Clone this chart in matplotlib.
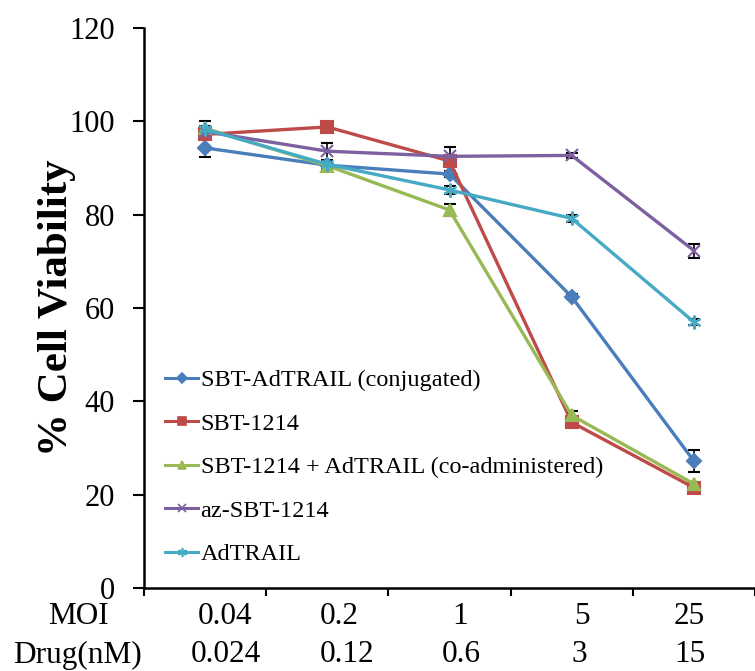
import numpy as np
import matplotlib
matplotlib.use("Agg")
import matplotlib.pyplot as plt
from matplotlib.lines import Line2D

plt.rcParams['font.family'] = ['Liberation Serif', 'DejaVu Serif']

# data
moi = ["0.04", "0.2", "1", "5", "25"]
drug = ["0.024", "0.12", "0.6", "3", "15"]
names = ["SBT-AdTRAIL (conjugated)", "SBT-1214",
         "SBT-1214 + AdTRAIL (co-administered)", "az-SBT-1214", "AdTRAIL"]
conj = [94.3, 90.6, 88.7, 62.4, 27.2]
conj_err = [1.9, 0.6, 0.6, 0.5, 2.3]
sbt = [97.2, 98.8, 91.5, 35.5, 21.5]
sbt_err = [0.8, 0.5, 0.6, 0.6, 0.5]
coadm = [98.5, 90.5, 81.0, 37.0, 22.3]
coadm_err = [1.5, 0.8, 1.2, 1.0, 0.5]
az = [97.8, 93.6, 92.5, 92.7, 72.3]
az_err = [1.0, 1.8, 2.0, 0.5, 1.5]
adtrail = [98.3, 90.8, 85.3, 79.2, 57.0]
adtrail_err = [0.8, 0.6, 0.8, 0.8, 0.7]

series = [conj, sbt, coadm, az, adtrail]
errs = [conj_err, sbt_err, coadm_err, az_err, adtrail_err]
colors = ["#4A7EBB", "#BE4B48", "#98B954", "#7D60A0", "#46AAC5"]
markers = ["D", "s", "^", "x", (6, 2, 0)]
msizes = [7.5, 8.5, 8.5, 9, 10]

fig = plt.figure(figsize=(7.55, 6.71), dpi=100)
W, H = 755, 671
ax = fig.add_axes([144 / W, (H - 588) / H, (W - 144) / W, (588 - 28) / H])

x = np.arange(len(moi))
handles = []
for y, e, c, m, ms, lab in zip(series, errs, colors, markers, msizes, names):
    ax.errorbar(x, y, yerr=e, color=c, lw=2.4, marker=m, ms=ms, mew=1.5,
                mec=c, mfc=c, ecolor="black", elinewidth=1.2, capsize=4.5,
                capthick=1.2, zorder=3)
    handles.append(Line2D([], [], color=c, lw=2.2, marker=m, ms=ms * 0.65,
                          mec=c, mfc=c, mew=1.2, label=lab))

ax.set_ylim(0, 120)
ax.set_yticks(np.arange(0, 121, 20))
ax.set_xlim(-0.5, -0.5 + (W - 144) / 124)
ax.set_xticks(np.arange(-0.5, 4.6, 1))
ax.set_xticklabels([])
ax.tick_params(axis="y", direction="out", length=8, width=1.5, labelsize=22, pad=13)
ax.tick_params(axis="x", direction="out", length=6, width=1.5)
for s in ["top", "right"]:
    ax.spines[s].set_visible(False)
for s in ["left", "bottom"]:
    ax.spines[s].set_linewidth(1.8)

ax.set_ylabel("% Cell Viability", fontsize=31, fontweight="bold")
ax.yaxis.set_label_coords((57 - 144) / 611, 0.5)
ax.yaxis.label.set_va("center")

# two rows of category labels under the axis
moi_shift = [0.16, 0.10, 0.09, 0.08, -0.04]
drug_shift = [0.17, 0.16, 0.10, 0.06, -0.03]
tr = ax.get_xaxis_transform()
fig.text(78 / W, 1 - 616 / H, "MOI", fontsize=22.5, ha="center", va="center")
fig.text(77 / W, 1 - 655 / H, "Drug(nM)", fontsize=22.5, ha="center", va="center")
for i in range(len(moi)):
    ax.text(x[i] + moi_shift[i], -28 / 560, moi[i], transform=tr,
            fontsize=22.5, ha="center", va="center", clip_on=False)
    ax.text(x[i] + drug_shift[i], -67 / 560, drug[i], transform=tr,
            fontsize=22.5, ha="center", va="center", clip_on=False)

ax.legend(handles=handles, loc="lower left", bbox_to_anchor=(0.011, 0.015),
          frameon=False, fontsize=17.5, handlelength=1.35, handletextpad=0.1,
          labelspacing=0.88, borderaxespad=0.2)

fig.savefig("out.png", dpi=100)
